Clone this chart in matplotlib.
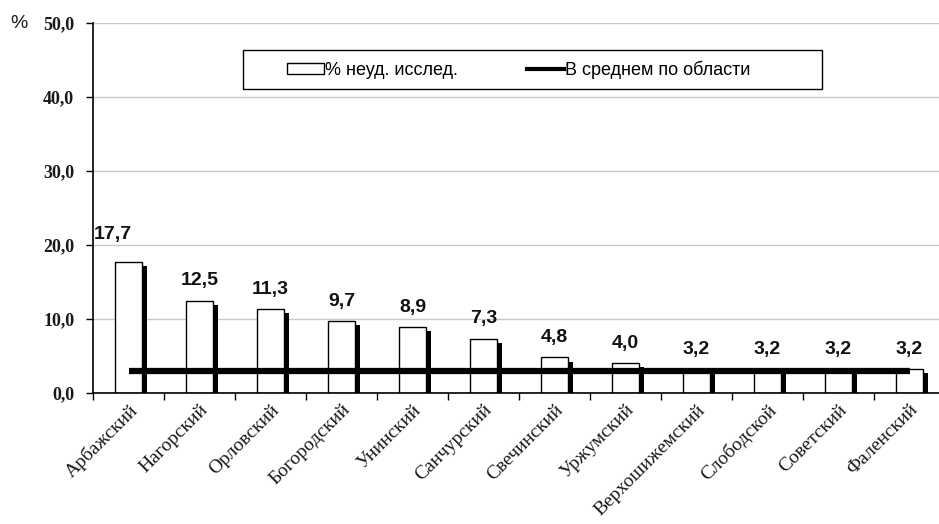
import matplotlib
matplotlib.use("Agg")
import matplotlib.pyplot as plt
from matplotlib.ticker import FixedLocator, FuncFormatter
from matplotlib.patches import Rectangle
from matplotlib.lines import Line2D

districts = ["Арбажский", "Нагорский", "Орловский", "Богородский", "Унинский",
             "Санчурский", "Свечинский", "Уржумский", "Верхошижемский",
             "Слободской", "Советский", "Фаленский"]
fail_pct = [17.7, 12.5, 11.3, 9.7, 8.9, 7.3, 4.8, 4.0, 3.2, 3.2, 3.2, 3.2]
region_avg = [3.0] * len(districts)
y_ticks = [0, 10, 20, 30, 40, 50]

W, H = 939, 524
fig = plt.figure(figsize=(W / 100, H / 100), dpi=100)
ax = fig.add_axes([93 / W, (H - 393) / H, 852 / W, 370 / H])

n = len(districts)
xs = list(range(n))
bar_w = 0.39
shadow_w = 0.07
drop = 0.55

# bars with a dark drop shadow on their right side
ax.bar([x + bar_w / 2 + shadow_w / 2 for x in xs], [v - drop for v in fail_pct],
       width=shadow_w, color="black", linewidth=0, zorder=2)
ax.bar(xs, fail_pct, width=bar_w, color="white", edgecolor="black",
       linewidth=1.0, zorder=3)

# regional average
ax.plot(xs, region_avg, color="black", linewidth=4.5, solid_capstyle="butt", zorder=4)

# value labels
for i, v in enumerate(fail_pct):
    dx, dy = (-11.5, 19.5) if i == 0 else (0, 14.5)
    ax.annotate(f"{v:.1f}".replace(".", ","), (i, v), xytext=(dx, dy),
                textcoords="offset points", ha="center", va="center",
                fontsize=14, fontweight="bold", family="Liberation Sans",
                color="#111111")

ax.set_xlim(-0.5, n - 0.5)
ax.set_ylim(0, 50)

ax.yaxis.set_major_locator(FixedLocator(y_ticks))
ax.yaxis.set_major_formatter(FuncFormatter(lambda v, p: f"{v:.1f}".replace(".", ",")))
ax.tick_params(axis="y", length=5, width=1, pad=8.5, labelsize=13)
for lab in ax.get_yticklabels():
    lab.set_family("Liberation Serif")
    lab.set_fontweight("bold")
    lab.set_color("#1a1a1a")

ax.xaxis.set_major_locator(FixedLocator(xs))
ax.set_xticklabels(districts, rotation=45, ha="right", rotation_mode="anchor",
                   family="Liberation Serif", fontsize=14, color="#1a1a1a")
ax.xaxis.set_minor_locator(FixedLocator([x - 0.5 for x in xs]))
ax.tick_params(axis="x", which="major", length=0, pad=6)
ax.tick_params(axis="x", which="minor", length=5, width=1)

ax.grid(axis="y", color="#c8c8c8", linewidth=1.0, zorder=0)
ax.set_axisbelow(True)
for s in ["top", "right"]:
    ax.spines[s].set_visible(False)
for s in ["left", "bottom"]:
    ax.spines[s].set_linewidth(1.2)
    ax.spines[s].set_zorder(5)

fig.text(10 / W, 1 - 23 / H, "%", ha="left", va="center", fontsize=14,
         family="Liberation Sans", color="#1a1a1a")

# legend with a hand-placed frame
fig.patches.append(Rectangle((243 / W, 1 - 89 / H), (822 - 243) / W, 39 / H,
                             transform=fig.transFigure, facecolor="white",
                             edgecolor="black", linewidth=1.0, zorder=5))
handles = [Rectangle((0, 0), 1, 1, facecolor="white", edgecolor="black", linewidth=1.0),
           Line2D([0], [0], color="black", linewidth=3)]
leg = fig.legend(handles, ["% неуд. исслед.", "В среднем по области"],
                 loc="center left", bbox_to_anchor=(287 / W, 1 - 70 / H),
                 ncol=2, frameon=False,
                 prop={"family": "Liberation Sans", "size": 13},
                 handlelength=2.05, handleheight=0.55, handletextpad=0.05,
                 columnspacing=3.85, borderpad=0, borderaxespad=0)
leg.set_zorder(6)

fig.savefig("out.png", dpi=100, facecolor="white")
